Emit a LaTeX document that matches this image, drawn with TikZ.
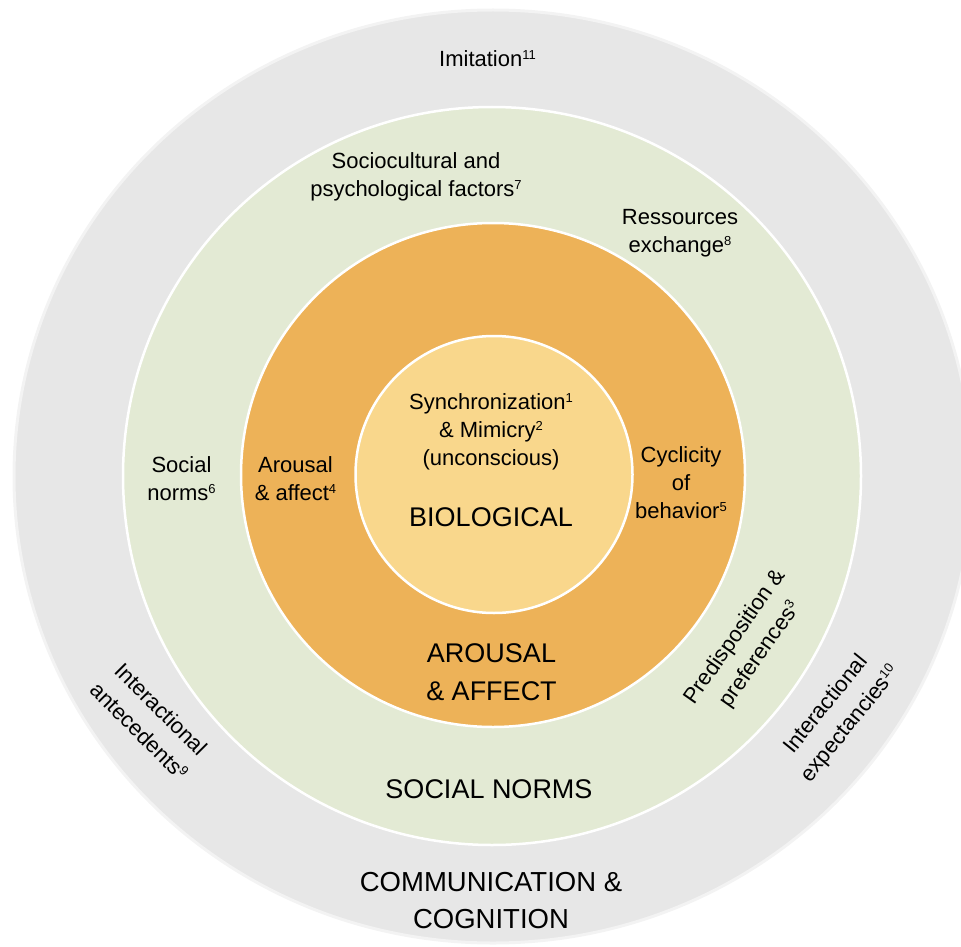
\documentclass[tikz,border=0pt]{standalone}
\usepackage{fontspec}
\setmainfont{Liberation Sans}
\newcommand{\supnum}[1]{\raisebox{7pt}{\fontsize{13}{13}\selectfont #1}}
\definecolor{ringgray}{HTML}{E7E7E7}
\definecolor{ringrim}{HTML}{F3F3F3}
\definecolor{ringgreen}{HTML}{E3EAD4}
\definecolor{ringorange}{HTML}{EDB258}
\definecolor{ringyellow}{HTML}{F9D78C}
\tikzset{
  smalltxt/.style={font=\fontsize{22}{28}\selectfont, align=center, inner sep=0pt, text=black},
  rottxt/.style={font=\fontsize{22}{31}\selectfont, align=center, inner sep=0pt, text=black},
  bigtxt/.style={font=\fontsize{27}{38}\selectfont, align=center, inner sep=0pt, text=black},
  ringline/.style={draw=white, line width=2.5pt}
}
\begin{document}
\begin{tikzpicture}[x=1pt, y=-1pt]
  \useasboundingbox (0,0) rectangle (961,947);
  \clip (0,0) rectangle (961,947);
  % rings
  \fill[ringgray, draw=ringrim, line width=3pt] (493,476.5) ellipse [x radius=479, y radius=466.5];
  \fill[ringgreen, ringline] (492,476) circle [radius=369];
  \fill[ringorange, ringline] (493,475) circle [radius=252];
  \fill[ringyellow, ringline] (494,474.5) circle [radius=138.5];

  % inner circle
  \node[smalltxt] (sync) at (491,432) {Synchronization\supnum{1}\\ \& Mimicry\supnum{2}\\ (unconscious)};
  \node[bigtxt, anchor=base] (bio) at (491,526.7) {BIOLOGICAL};

  % orange ring
  \node[smalltxt] (arous) at (295.5,479) {Arousal\\ \& affect\supnum{4}};
  \node[smalltxt] (cycl) at (681,483) {Cyclicity\\ of\\ behavior\supnum{5}};
  \node[bigtxt] (aaff) at (491.5,672.5) {AROUSAL\\ \& AFFECT};

  % green ring
  \node[smalltxt] (socio) at (416,176.5) {Sociocultural and\\ psychological factors\supnum{7}};
  \node[smalltxt] (ress) at (680,233) {Ressources\\ exchange\supnum{8}};
  \node[smalltxt] (snorm) at (181.5,479) {Social\\ norms\supnum{6}};
  \node[rottxt, rotate=55] (predis) at (748,646) {Predisposition \&\\ preferences\supnum{3}};
  \node[bigtxt, anchor=base] (social) at (489,798.3) {SOCIAL NORMS};

  % gray ring
  \node[smalltxt, anchor=base] (imit) at (487.5,66.5) {Imitation\supnum{11}};
  \node[rottxt, rotate=-45] (antec) at (150,720) {Interactional\\ antecedents\supnum{9}};
  \node[rottxt, rotate=51] (expec) at (838.5,714.5) {Interactional\\ expectancies\supnum{10}};
  \node[bigtxt, font=\fontsize{27.5}{36.5}\selectfont] (comm) at (491,900.5) {COMMUNICATION \&\\ COGNITION};
\end{tikzpicture}
\end{document}
